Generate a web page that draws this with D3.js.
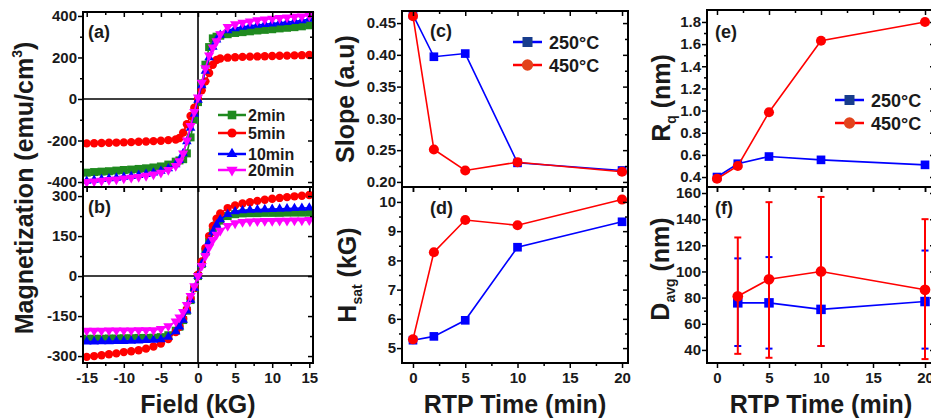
<!DOCTYPE html>
<html>
<head>
<meta charset="utf-8">
<script src="https://cdn.jsdelivr.net/npm/d3@7"></script>
<style>
  body { margin: 0; background: #fff; }
  text { font-family: "Liberation Sans", Arial, sans-serif; font-weight: bold; fill: #1a1a1a; }
</style>
</head>
<body>
<svg id="fig" width="931" height="419"></svg>
<script>
// M-H loops, field in kG, magnetization in emu/cm3
const field = [-15,-14,-13,-12,-11,-10,-9,-8,-7,-6,-5,-4,-3,-2.5,-2,-1.5,-1,-0.5,0,0.5,1,1.5,2,2.5,3,4,5,6,7,8,9,10,11,12,13,14,15];

// panel (a)
const a2min  = [-355,-352,-350,-348,-345,-342,-340,-337,-334,-330,-325,-316,-302,-296,-290,-262,-185,-100,-15,75,165,250,292,300,305,312,318,322,326,330,333,336,340,343,346,350,355];
const a5min  = [-214,-213,-212,-211,-210,-209,-208,-206,-205,-203,-201,-198,-195,-188,-162,-122,-82,-42,0,42,85,125,165,188,195,199,201,203,204,205,206,207,208,209,210,211,212];
const a10min = [-395,-390,-387,-383,-380,-376,-372,-367,-362,-355,-347,-335,-315,-295,-262,-205,-140,-72,-5,65,135,200,250,285,308,330,340,347,352,356,360,363,367,370,374,378,385];
const a20min = [-400,-397,-394,-390,-387,-383,-379,-375,-370,-363,-355,-342,-322,-300,-262,-200,-130,-62,8,78,148,210,248,278,312,347,360,368,374,379,383,387,390,393,396,398,402];

// panel (b)
const b2min  = [-235,-235,-235,-234,-234,-233,-233,-232,-232,-231,-229,-222,-205,-190,-165,-130,-90,-45,0,45,90,130,165,190,208,225,232,235,236,236,237,237,237,238,238,238,238];
const b5min  = [-303,-300,-297,-293,-290,-285,-282,-278,-272,-264,-253,-236,-210,-190,-160,-125,-85,-45,5,55,105,150,188,215,235,255,265,272,277,282,286,290,293,296,299,301,304];
const b10min = [-246,-246,-245,-245,-244,-244,-243,-242,-241,-240,-238,-228,-208,-190,-165,-130,-90,-45,0,45,90,130,165,192,212,232,242,246,248,249,250,251,252,253,254,255,256];
const b20min = [-205,-205,-205,-204,-204,-204,-204,-203,-203,-203,-198,-188,-170,-155,-135,-108,-75,-38,0,38,75,108,135,155,170,188,198,203,205,206,207,207,208,208,209,209,210];

const loopNames = ['2min', '5min', '10min', '20min'];

// RTP time series
const rtp = [0, 2, 5, 10, 20];
const slope250 = [0.463, 0.397, 0.402, 0.230, 0.218];
const slope450 = [0.461, 0.251, 0.218, 0.231, 0.216];
const hsat250 = [5.27, 5.40, 5.95, 8.45, 9.32];
const hsat450 = [5.30, 8.28, 9.38, 9.20, 10.08];
const rq250 = [0.40, 0.52, 0.585, 0.555, 0.51];
const rq450 = [0.385, 0.50, 0.985, 1.63, 1.80];

const rtpD = [2, 5, 10, 20];
const davg250 = [76, 76, 71, 77];
const davg250Lo = [43, 41, 43, 41];
const davg250Hi = [110, 111, 101, 116];
const davg450 = [81, 94, 100, 86];
const davg450Lo = [37, 34, 43, 33];
const davg450Hi = [126, 153, 157, 140];

const tempNames = ['250°C', '450°C'];

const GREEN = '#1f8a1f', RED = '#ff0000', BLUE = '#0000ff', MAG = '#ff00ff';

const svg = d3.select('#fig');

function panel(box, xDom, yDom) {
  const g = svg.append('g');
  const x = d3.scaleLinear().domain(xDom).range([box.l, box.r]);
  const y = d3.scaleLinear().domain(yDom).range([box.b, box.t]);
  return {g, x, y, box};
}

function frame(p, o) {
  const {g, x, y, box} = p;
  const mk = (axis, tx, ty) => {
    const a = g.append('g')
      .attr('transform', `translate(${tx},${ty})`)
      .call(axis);
    a.select('.domain').remove();
    a.selectAll('line').attr('stroke', '#000').attr('stroke-width', 1.5);
    a.selectAll('text').attr('font-size', 15);
  };
  mk(d3.axisBottom(x).tickValues(o.xMaj).tickSize(5).tickPadding(4)
    .tickFormat(o.xLab ? d => String(d) : ''), 0, box.b);
  mk(d3.axisBottom(x).tickValues(o.xMin).tickSize(3).tickFormat(''), 0, box.b);
  mk(d3.axisTop(x).tickValues(o.xMaj).tickSize(-5).tickFormat(''), 0, box.t);
  mk(d3.axisTop(x).tickValues(o.xMin).tickSize(-3).tickFormat(''), 0, box.t);
  mk(d3.axisLeft(y).tickValues(o.yMaj).tickSize(5).tickPadding(1).tickFormat(o.yFmt), box.l, 0);
  mk(d3.axisLeft(y).tickValues(o.yMin).tickSize(3).tickFormat(''), box.l, 0);
  mk(d3.axisRight(y).tickValues(o.yMaj).tickSize(-5).tickFormat(''), box.r, 0);
  mk(d3.axisRight(y).tickValues(o.yMin).tickSize(-3).tickFormat(''), box.r, 0);
  g.append('rect')
    .attr('x', box.l).attr('y', box.t)
    .attr('width', box.r - box.l).attr('height', box.b - box.t)
    .attr('fill', 'none').attr('stroke', '#000').attr('stroke-width', 2);
}

function shapeOf(kind, size) {
  if (kind == 'square') return d3.symbol(d3.symbolSquare, size)();
  if (kind == 'circle') return d3.symbol(d3.symbolCircle, size)();
  return d3.symbol(d3.symbolTriangle, size)();
}

function series(p, xs, ys, color, kind, size) {
  const pts = xs.map((v, i) => [v, ys[i]]);
  p.g.append('path')
    .attr('d', d3.line().x(d => p.x(d[0])).y(d => p.y(d[1]))(pts))
    .attr('fill', 'none').attr('stroke', color).attr('stroke-width', 1.6);
  p.g.selectAll(null).data(pts).enter().append('path')
    .attr('d', shapeOf(kind, size))
    .attr('transform', d => `translate(${p.x(d[0])},${p.y(d[1])})` + (kind == 'down' ? ' rotate(180)' : ''))
    .attr('fill', color);
}

function label(txt, x, y, size) {
  return svg.append('text').attr('x', x).attr('y', y).attr('font-size', size).text(txt);
}

function vLabel(x, y, parts) {
  const t = svg.append('text')
    .attr('transform', `translate(${x},${y}) rotate(-90)`)
    .attr('text-anchor', 'middle')
    .attr('font-size', 25);
  parts.forEach(pt => {
    const s = t.append('tspan').text(pt.t);
    if (pt.sub) s.attr('font-size', 14).attr('dy', 6);
    if (pt.sup) s.attr('font-size', 14).attr('dy', -11);
    if (pt.back) s.attr('dy', pt.back);
  });
}

const xMajM = [-15, -10, -5, 0, 5, 10, 15], xMinM = [-12.5, -7.5, -2.5, 2.5, 7.5, 12.5];
const xMajT = [0, 5, 10, 15, 20], xMinT = [2.5, 7.5, 12.5, 17.5];

// ---- (a) and (b)
const loopSets = [
  {box: {l: 83, r: 313, t: 12, b: 187}, yDom: [-424, 419], yMaj: [-400, -200, 0, 200, 400], yMin: [-300, -100, 100, 300],
   data: [a2min, a5min, a10min, a20min], xLab: false, tag: '(a)'},
  {box: {l: 83, r: 313, t: 187, b: 363}, yDom: [-326, 334], yMaj: [-300, -150, 0, 150, 300], yMin: [-225, -75, 75, 225],
   data: [b2min, b5min, b10min, b20min], xLab: true, tag: '(b)'}
];
const loopStyle = [
  {c: GREEN, k: 'square', s: 64},
  {c: RED, k: 'circle', s: 55},
  {c: BLUE, k: 'triangle', s: 40},
  {c: MAG, k: 'down', s: 45}
];

loopSets.forEach(set => {
  const p = panel(set.box, [-15.5, 15.5], set.yDom);
  p.g.append('line').attr('x1', p.x(0)).attr('x2', p.x(0)).attr('y1', set.box.t).attr('y2', set.box.b)
    .attr('stroke', '#000').attr('stroke-width', 1.6);
  p.g.append('line').attr('x1', set.box.l).attr('x2', set.box.r).attr('y1', p.y(0)).attr('y2', p.y(0))
    .attr('stroke', '#000').attr('stroke-width', 1.6);
  set.data.forEach((ys, i) => series(p, field, ys, loopStyle[i].c, loopStyle[i].k, loopStyle[i].s));
  frame(p, {xMaj: xMajM, xMin: xMinM, yMaj: set.yMaj, yMin: set.yMin, xLab: set.xLab, yFmt: d => String(d)});
  label(set.tag, 88, set.box.t + 26, 18);
});

// legend (a)
const legA = [121, 139, 160, 176];
loopNames.forEach((n, i) => {
  const st = loopStyle[i];
  svg.append('line').attr('x1', 218).attr('x2', 246).attr('y1', legA[i] - 6).attr('y2', legA[i] - 6)
    .attr('stroke', st.c).attr('stroke-width', 2.5);
  svg.append('path').attr('d', shapeOf(st.k, st.s + 10))
    .attr('transform', `translate(232,${legA[i] - 6})` + (st.k == 'down' ? ' rotate(180)' : ''))
    .attr('fill', st.c);
  label(n, 248, legA[i], 16);
});

vLabel(33, 188, [{t: 'Magnetization (emu/cm'}, {t: '3', sup: true}, {t: ')', back: 11}]);
svg.append('text').attr('x', 198).attr('y', 413).attr('text-anchor', 'middle').attr('font-size', 25).text('Field (kG)');

// ---- (c) to (f)
function timePanel(box, xDom, yDom, yMaj, yMin, yFmt, xLab) {
  return {p: panel(box, xDom, yDom), opts: {xMaj: xMajT, xMin: xMinT, yMaj, yMin, xLab, yFmt}};
}

const pc = timePanel({l: 402, r: 628, t: 11, b: 187}, [-1.05, 20.57], [0.192, 0.469],
  [0.20, 0.25, 0.30, 0.35, 0.40, 0.45], [0.225, 0.275, 0.325, 0.375, 0.425], d3.format('.2f'), false);
series(pc.p, rtp, slope250, BLUE, 'square', 75);
series(pc.p, rtp, slope450, RED, 'circle', 80);
frame(pc.p, pc.opts);

const pd = timePanel({l: 402, r: 628, t: 187, b: 363}, [-1.05, 20.57], [4.49, 10.51],
  [5, 6, 7, 8, 9, 10], [5.5, 6.5, 7.5, 8.5, 9.5], d => String(d), true);
series(pd.p, rtp, hsat250, BLUE, 'square', 75);
series(pd.p, rtp, hsat450, RED, 'circle', 80);
frame(pd.p, pd.opts);

const pe = timePanel({l: 707, r: 935, t: 10, b: 187}, [-0.96, 20.96], [0.31, 1.908],
  [0.4, 0.6, 0.8, 1.0, 1.2, 1.4, 1.6, 1.8], [0.5, 0.7, 0.9, 1.1, 1.3, 1.5, 1.7], d3.format('.1f'), false);
series(pe.p, rtp, rq250, BLUE, 'square', 75);
series(pe.p, rtp, rq450, RED, 'circle', 80);
frame(pe.p, pe.opts);

const pf = timePanel({l: 707, r: 935, t: 187, b: 363}, [-0.96, 20.96], [30, 164.6],
  [40, 60, 80, 100, 120, 140, 160], [50, 70, 90, 110, 130, 150], d => String(d), true);

function errBars(p, xs, lo, hi, color, w) {
  xs.forEach((v, i) => {
    const cx = p.x(v);
    p.g.append('line').attr('x1', cx).attr('x2', cx).attr('y1', p.y(lo[i])).attr('y2', p.y(hi[i]))
      .attr('stroke', color).attr('stroke-width', w);
    [lo[i], hi[i]].forEach(e => {
      p.g.append('line').attr('x1', cx - 3.5).attr('x2', cx + 3.5).attr('y1', p.y(e)).attr('y2', p.y(e))
        .attr('stroke', color).attr('stroke-width', 2);
    });
  });
}
errBars(pf.p, rtpD, davg250Lo, davg250Hi, BLUE, 1.5);
series(pf.p, rtpD, davg250, BLUE, 'square', 90);
errBars(pf.p, rtpD, davg450Lo, davg450Hi, RED, 2);
series(pf.p, rtpD, davg450, RED, 'circle', 90);
frame(pf.p, pf.opts);

label('(c)', 430, 37, 18);
label('(d)', 430, 214, 18);
label('(e)', 715, 38, 18);
label('(f)', 715, 214, 18);

// temperature legends
function tempLegend(x0, ys) {
  const cols = [BLUE, RED], fills = ['#173c8c', '#e2431c'], kinds = ['square', 'circle'];
  tempNames.forEach((n, i) => {
    svg.append('line').attr('x1', x0).attr('x2', x0 + 29).attr('y1', ys[i]).attr('y2', ys[i])
      .attr('stroke', cols[i]).attr('stroke-width', 2.5);
    svg.append('path').attr('d', shapeOf(kinds[i], 100))
      .attr('transform', `translate(${x0 + 14.5},${ys[i]})`).attr('fill', fills[i]);
    label(n, x0 + 36, ys[i] + 6.5, 18);
  });
}
tempLegend(513, [42, 65]);
tempLegend(835, [100, 123]);

vLabel(354, 99, [{t: 'Slope (a.u)'}]);
vLabel(356, 275, [{t: 'H'}, {t: 'sat', sub: true}, {t: ' (kG)', back: -6}]);
vLabel(670, 98, [{t: 'R'}, {t: 'q', sub: true}, {t: ' (nm)', back: -6}]);
vLabel(669, 269, [{t: 'D'}, {t: 'avg', sub: true}, {t: ' (nm)', back: -6}]);

svg.append('text').attr('x', 515).attr('y', 413).attr('text-anchor', 'middle').attr('font-size', 25).text('RTP Time (min)');
svg.append('text').attr('x', 821).attr('y', 413).attr('text-anchor', 'middle').attr('font-size', 25).text('RTP Time (min)');
</script>
</body>
</html>
